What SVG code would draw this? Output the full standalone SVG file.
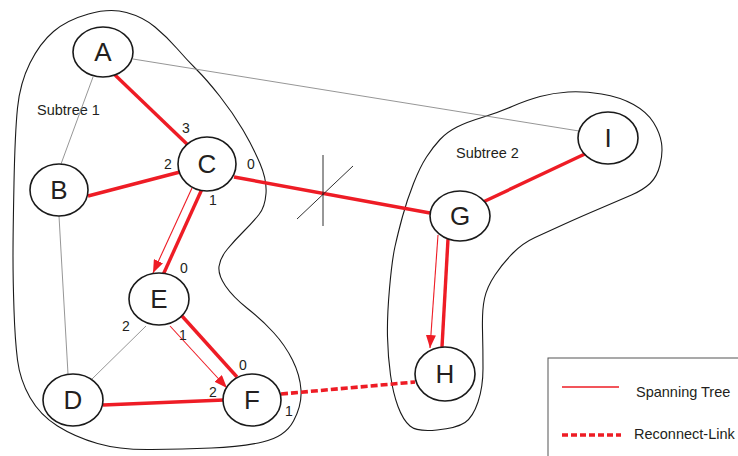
<svg xmlns="http://www.w3.org/2000/svg" width="738" height="456" viewBox="0 0 738 456">
  <style>
    .blob { fill: none; stroke: #1a1a1a; stroke-width: 1.1; }
    .node ellipse { fill: #fff; stroke: #1a1a1a; stroke-width: 1.6; }
    .node text { font-family: "Liberation Sans", Arial, sans-serif; font-size: 26px; fill: #231f20; text-anchor: middle; }
    .gray { stroke: #8a8a8a; stroke-width: 0.9; fill: none; }
    .tree { stroke: #ee1c25; stroke-width: 3.4; fill: none; }
    .dir { stroke: #ee1c25; stroke-width: 1.1; fill: none; marker-end: url(#arrow); }
    .link { stroke: #ee1c25; stroke-width: 3.6; fill: none; stroke-dasharray: 7 3; }
    .num { font-family: "Liberation Sans", Arial, sans-serif; font-size: 14px; fill: #231f20; text-anchor: middle; }
    .lbl { font-family: "Liberation Sans", Arial, sans-serif; font-size: 14.5px; fill: #231f20; }
    .cut { stroke: #1a1a1a; stroke-width: 0.9; }
  </style>
  <defs>
    <marker id="arrow" markerUnits="userSpaceOnUse" markerWidth="14" markerHeight="10" refX="13" refY="5" orient="auto">
      <path d="M0,0 L13,5 L0,10 z" fill="#ee1c25"/>
    </marker>
  </defs>
  <rect width="738" height="456" fill="#fff"/>

  <!-- subtree outlines -->
  <path class="blob" d="M126.5,12.5 Q143,17 155,27 Q167,37 177,48.5 Q187,60 197,70 Q207,80 220,96.5 Q233,113 243,130 Q253,147 260,163.5 Q267,180 266,193.5 Q265,207 259,214.5 Q253,222 244,231 Q235,240 227.5,249 Q220,258 219,266.5 Q218,275 225.5,286 Q233,297 247.5,308.5 Q262,320 273.5,332.5 Q285,345 292.5,360 Q300,375 301,390 Q302,405 293.5,421 Q285,437 262.5,442 Q240,447 211.5,448 Q183,449 151.5,449.5 Q120,450 97.5,443.5 Q75,437 57.5,426 Q40,415 30,397.5 Q20,380 17.5,360 Q15,340 14,310 Q13,280 13,256.5 Q13,233 14,183 Q15,133 17.5,108 Q20,83 30,63 Q40,43 53.5,31.5 Q67,20 88.5,14 Q110,8 126.5,12.5 Z"/>
  <path class="blob" d="M440,139.5 Q447,132 457,127 Q467,122 482,117.5 Q497,113 512,106.5 Q527,100 540,96.5 Q553,93 568,92 Q583,91 601.5,94 Q620,97 633.5,104.5 Q647,112 653.5,122.5 Q660,133 661.5,143 Q663,153 660,165 Q657,177 650,183.5 Q643,190 631.5,195 Q620,200 600,208.5 Q580,217 563.5,224.5 Q547,232 535,237.5 Q523,243 513,253 Q503,263 495,275 Q487,287 484.5,298.5 Q482,310 482.5,330 Q483,350 483,368.5 Q483,387 478,402 Q473,417 465,422.5 Q457,428 437,430 Q417,432 410,426 Q403,420 398,406.5 Q393,393 390.5,375 Q388,357 387.5,337 Q387,317 389.5,288.5 Q392,260 395,246.5 Q398,233 402.5,216.5 Q407,200 413.5,183.5 Q420,167 426.5,157 Q433,147 440,139.5 Z"/>
  <text class="lbl" x="37" y="115">Subtree 1</text>
  <text class="lbl" x="456" y="158">Subtree 2</text>

  <!-- connectors -->
  <g id="connectors">
    <line class="gray" x1="93" y1="77" x2="61" y2="164"/>
    <line class="gray" x1="133" y1="59" x2="579" y2="131"/>
    <line class="gray" x1="59" y1="216" x2="68" y2="374"/>
    <line class="gray" x1="146" y1="326" x2="92" y2="379"/>
    <line class="tree" x1="115" y1="75" x2="189" y2="146"/>
    <line class="tree" x1="88" y1="196" x2="180" y2="172"/>
    <line class="tree" x1="234" y1="177" x2="430" y2="213"/>
    <line class="tree" x1="483" y1="202" x2="587" y2="153"/>
    <line class="tree" x1="202" y1="189" x2="163" y2="275"/>
    <line class="dir" x1="192" y1="188" x2="153" y2="273"/>
    <line class="tree" x1="182" y1="316" x2="237" y2="377"/>
    <line class="dir" x1="170" y1="326" x2="227" y2="388"/>
    <line class="tree" x1="103" y1="405" x2="224" y2="400"/>
    <line class="tree" x1="448" y1="239" x2="442" y2="347"/>
    <line class="dir" x1="438" y1="235" x2="430" y2="348"/>
    <line class="link" x1="281" y1="394" x2="415" y2="382"/>
    <line class="cut" x1="323" y1="155" x2="323" y2="226"/>
    <line class="cut" x1="297" y1="219" x2="353" y2="166"/>
  </g>

  <!-- port numbers -->
  <text class="num" x="186" y="133">3</text>
  <text class="num" x="168" y="169">2</text>
  <text class="num" x="251" y="169">0</text>
  <text class="num" x="213" y="205">1</text>
  <text class="num" x="184" y="273">0</text>
  <text class="num" x="126" y="331">2</text>
  <text class="num" x="183" y="340">1</text>
  <text class="num" x="243" y="370">0</text>
  <text class="num" x="213" y="397">2</text>
  <text class="num" x="289" y="416">1</text>

  <!-- nodes -->
  <g id="A" class="node"><ellipse cx="103" cy="52" rx="30" ry="25"/><text x="103" y="61">A</text></g>
  <g id="B" class="node"><ellipse cx="59" cy="190" rx="29" ry="26"/><text x="59" y="199">B</text></g>
  <g id="C" class="node"><ellipse cx="207" cy="164" rx="29" ry="27"/><text x="207" y="173">C</text></g>
  <g id="E" class="node"><ellipse cx="159" cy="299" rx="30" ry="26"/><text x="159" y="308">E</text></g>
  <g id="D" class="node"><ellipse cx="73" cy="400" rx="30" ry="26"/><text x="73" y="409">D</text></g>
  <g id="F" class="node"><ellipse cx="252" cy="400" rx="29" ry="26"/><text x="252" y="409">F</text></g>
  <g id="G" class="node"><ellipse cx="460" cy="216" rx="30" ry="25"/><text x="460" y="225">G</text></g>
  <g id="H" class="node"><ellipse cx="445" cy="374" rx="30" ry="27"/><text x="445" y="383">H</text></g>
  <g id="I" class="node"><ellipse cx="608" cy="138" rx="30" ry="26"/><text x="608" y="147">I</text></g>

  <!-- legend -->
  <g id="legend">
    <rect x="548" y="358" width="200" height="120" fill="#fff" stroke="#555" stroke-width="1"/>
    <line x1="562" y1="387" x2="619" y2="387" stroke="#ee1c25" stroke-width="1.4"/>
    <text class="lbl" x="636" y="397" font-size="13.5">Spanning Tree</text>
    <line x1="562" y1="435" x2="621" y2="435" stroke="#ee1c25" stroke-width="3.4" stroke-dasharray="6 3"/>
    <text class="lbl" x="634" y="439" font-size="13.5">Reconnect-Link</text>
  </g>
</svg>
